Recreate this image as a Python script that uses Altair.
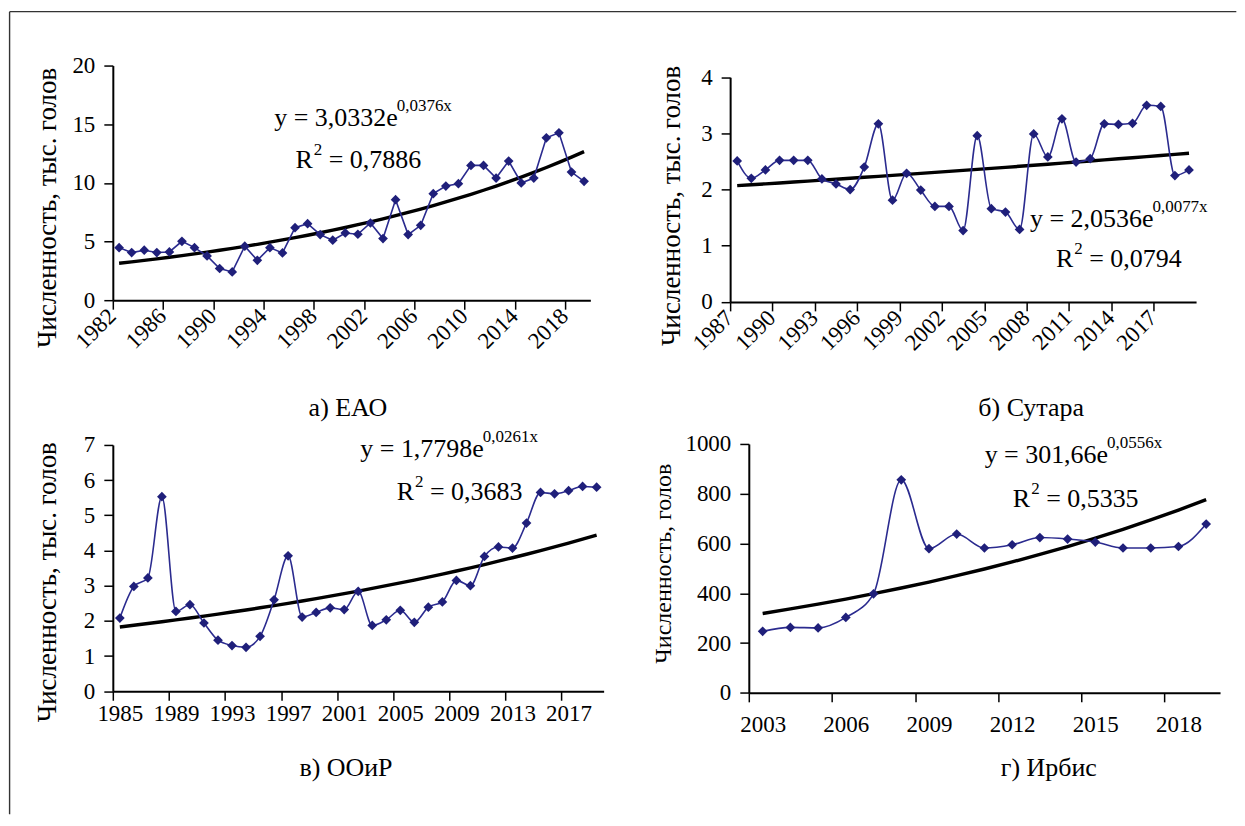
import math
import altair as alt
import pandas as pd

FONT = "'Liberation Serif', 'Times New Roman', 'DejaVu Serif', serif"
LINE_COLOR = "#2b2b8f"
MARK_COLOR = "#1f1f7a"

# а) ЕАО, thousand head
years_eao = list(range(1982, 2020))
count_eao = [4.48, 4.06, 4.26, 4.06, 4.11, 5.02, 4.48, 3.77, 2.70, 2.41,
             4.60, 3.40, 4.48, 4.03, 6.18, 6.52, 5.59, 5.11, 5.73, 5.62,
             6.58, 5.25, 8.57, 5.59, 6.38, 9.08, 9.73, 9.93, 11.49, 11.49,
             10.41, 11.86, 9.99, 10.41, 13.84, 14.27, 10.92, 10.13]

# б) Сутара, thousand head
years_sutara = list(range(1987, 2020))
count_sutara = [2.51, 2.20, 2.35, 2.52, 2.52, 2.52, 2.19, 2.10, 2.00, 2.40,
                3.17, 1.81, 2.29, 1.99, 1.70, 1.70, 1.27, 2.96, 1.66, 1.60,
                1.29, 2.99, 2.58, 3.26, 2.49, 2.55, 3.17, 3.16, 3.18, 3.50,
                3.48, 2.25, 2.35]

# в) ООиР, thousand head
years_ooir = list(range(1985, 2020))
count_ooir = [2.08, 2.98, 3.22, 5.53, 2.27, 2.46, 1.94, 1.45, 1.30, 1.25,
              1.56, 2.60, 3.85, 2.11, 2.24, 2.37, 2.32, 2.84, 1.87, 2.03,
              2.30, 1.96, 2.39, 2.54, 3.15, 3.00, 3.83, 4.10, 4.07, 4.78,
              5.65, 5.61, 5.70, 5.82, 5.80]

# г) Ирбис, head
years_irbis = list(range(2003, 2020))
count_irbis = [247, 263, 261, 303, 398, 856, 579, 638, 582, 595,
               624, 618, 606, 582, 582, 588, 678]

# exponential trend y = a * e^(b*x), x = 1..n
trend_eao = (3.0332, 0.0376)
trend_sutara = (2.0536, 0.0077)
trend_ooir = (1.7798, 0.0261)
trend_irbis = (301.66, 0.0556)

# tick labels on the category axes
ticks_eao = list(range(1982, 2020, 4))
ticks_sutara = list(range(1987, 2018, 3)) + [2020]
ticks_ooir = list(range(1985, 2020, 4))
ticks_irbis = list(range(2003, 2020, 3))


def trend_frame(years, coef):
    a, b = coef
    return pd.DataFrame({
        "year": years,
        "value": [a * math.exp(b * (i + 1)) for i in range(len(years))],
    })


def panel(years, counts, coef, y_max, y_step, tick_years, width, height,
          y_top, label_angle, label_pad, interpolate, y_title, y_title_size,
          y_title_x, y_title_y, subtitle, sub_x, sub_y, eq_main, eq_sup,
          eq_at, r2_value, r2_at, frame=False):
    step = width / len(years)
    last = years[-1]
    # ticks sit on category boundaries; slanted labels end at the boundary,
    # level labels are centred on their category
    label_shift = -1 if label_angle else step / 2
    x_axis = alt.Axis(
        values=tick_years, format="d", tickOffset=-step / 2,
        labelOffset=label_shift, labelAngle=label_angle,
        labelAlign="right" if label_angle else "center",
        labelBaseline="middle" if label_angle else "top",
        labelPadding=label_pad, labelFlush=False, labelOverlap=False,
        labelExpr=f"datum.value > {last} ? '' : datum.label",
        tickSize=9, grid=False, title=subtitle, titleX=sub_x, titleY=sub_y,
        titleAlign="center", titleBaseline="middle", titleFontSize=26,
    )
    y_axis = alt.Axis(
        values=list(range(0, int(y_max) + 1, y_step)), format="d",
        tickSize=9, labelPadding=9, grid=False, title=y_title,
        titleFontSize=y_title_size, titleX=y_title_x, titleY=y_title_y,
        titleAngle=270, titleAlign="center", titleBaseline="middle",
    )
    X = alt.X("year:Q", axis=x_axis,
              scale=alt.Scale(domain=[years[0] - 0.5, last + 0.5],
                              nice=False, zero=False))
    Y = alt.Y("value:Q", axis=y_axis,
              scale=alt.Scale(domain=[0, y_max], nice=False,
                              range=[height, y_top]))

    series = pd.DataFrame({"year": years, "value": counts})
    line = alt.Chart(series).mark_line(
        color=LINE_COLOR, strokeWidth=1.6, interpolate=interpolate
    ).encode(x=X, y=Y)
    dots = alt.Chart(series).mark_point(
        shape="diamond", filled=True, size=95, color=MARK_COLOR, opacity=1
    ).encode(x=X, y=Y)
    trend = alt.Chart(trend_frame(years, coef)).mark_line(
        color="black", strokeWidth=3.4
    ).encode(x=X, y=Y)

    eq = pd.DataFrame({"year": [eq_at[0]], "value": [eq_at[1]]})
    r2 = pd.DataFrame({"year": [r2_at[0]], "value": [r2_at[1]]})
    text_style = dict(font=FONT, fontSize=26, color="black",
                      baseline="alphabetic")
    sup_style = dict(font=FONT, fontSize=17, color="black",
                     baseline="alphabetic")
    eq_main_t = alt.Chart(eq).mark_text(align="right", text=eq_main,
                                        **text_style).encode(x=X, y=Y)
    eq_sup_t = alt.Chart(eq).mark_text(align="left", text=eq_sup, dx=-1,
                                       dy=-15, **sup_style).encode(x=X, y=Y)
    r_t = alt.Chart(r2).mark_text(align="right", text="R",
                                  **text_style).encode(x=X, y=Y)
    r_sup_t = alt.Chart(r2).mark_text(align="left", text="2", dx=1, dy=-13,
                                      **sup_style).encode(x=X, y=Y)
    r_val_t = alt.Chart(r2).mark_text(align="left", text="= " + r2_value,
                                      dx=16, **text_style).encode(x=X, y=Y)

    layers = [trend, line, dots, eq_main_t, eq_sup_t, r_t, r_sup_t, r_val_t]
    if frame:
        one = pd.DataFrame({"k": [0]})
        left_edge = alt.Chart(one).mark_rule(color="#333333",
                                             strokeWidth=1.4).encode(
            x=alt.value(-103.4), y=alt.value(-54), y2=alt.value(750))
        top_edge = alt.Chart(one).mark_rule(color="#333333",
                                            strokeWidth=1.4).encode(
            x=alt.value(-103.4), x2=alt.value(1125.3), y=alt.value(-54))
        layers = [left_edge, top_edge] + layers
    return alt.layer(*layers).properties(width=width, height=height)


p_eao = panel(years_eao, count_eao, trend_eao, 20, 5, ticks_eao,
              478.3, 235, 0, 315, 3, "linear",
              "Численность, тыс. голов", 27, -65, 142,
              "а) ЕАО", 235, 108,
              "y = 3,0332e", "0,0376x", (2004.17, 14.89),
              "0,7886", (1997.41, 11.23), frame=True)

p_sutara = panel(years_sutara, count_sutara, trend_sutara, 4, 1,
                 ticks_sutara, 466.7, 236.7, 11.7, 315, 3, "monotone",
                 "Численность, тыс. голов", 27, -59, 140,
                 "б) Сутара", 301, 106,
                 "y = 2,0536e", "0,0077x", (2016.48, 1.333),
                 "0,0794", (2010.8, 0.622))

p_ooir = panel(years_ooir, count_ooir, trend_ooir, 7, 1, ticks_ooir,
               491.6, 247.7, 1, 0, 2, "monotone",
               "Численность, тыс. голов", 27, -65, 138,
               "в) ООиР", 233, 76,
               "y = 1,7798e", "0,0261x", (2010.95, 6.67),
               "0,3683", (2005.98, 5.44))

p_irbis = panel(years_irbis, count_irbis, trend_irbis, 1000, 200,
                ticks_irbis, 472, 249.3, 0, 0, 12, "monotone",
                "Численность, голов", 24, -85, 119.5,
                "г) Ирбис", 300, 75,
                "y = 301,66e", "0,0556x", (2015.46, 922.6),
                "0,5335", (2012.65, 747))

row1 = alt.hconcat(p_eao, p_sutara, spacing=139.3, bounds="flush")
row2 = alt.hconcat(p_ooir, p_irbis, spacing=145, bounds="flush")

# flush rows count as zero height, so the spacing is the row-to-row offset
chart = alt.vconcat(row1, row2, spacing=379, bounds="flush").properties(
    padding={"left": 8, "top": 10, "right": 8, "bottom": 10},
    background="white",
).configure_axis(
    labelFont=FONT, titleFont=FONT, labelFontSize=23, titleFontSize=26,
    titleFontWeight="normal", labelColor="black", titleColor="black",
    domainColor="black", tickColor="black", domainWidth=2, tickWidth=1.5,
).configure_view(stroke=None)

chart.save("out.html", embed_options={"renderer": "svg", "actions": False})
